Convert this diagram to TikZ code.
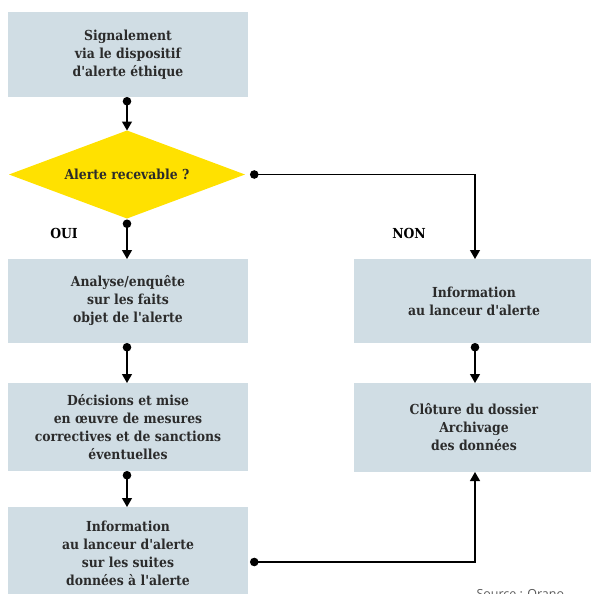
\documentclass[tikz,border=0pt]{standalone}
\usepackage{fontspec}
\setmainfont{DejaVu Serif Condensed}[BoldFont={DejaVu Serif Condensed Bold}]
\newfontfamily\srcfont{Open Sans}
\usetikzlibrary{shapes.geometric,arrows.meta}
\definecolor{boxfill}{HTML}{D0DDE4}
\definecolor{alertyellow}{HTML}{FFE100}
\definecolor{ink}{HTML}{2B2B2B}
\newcommand\ap{\textquotesingle}
\tikzset{
  stepbox/.style={rectangle, fill=boxfill, draw=none, minimum width=240pt,
    inner sep=0pt, outer sep=0pt, align=center, text=ink,
    font=\bfseries\fontsize{13.8}{18}\selectfont},
  decision/.style={diamond, fill=alertyellow, draw=none, minimum width=236pt,
    minimum height=88pt, aspect=2.68, inner sep=0pt, outer sep=0pt, text=ink,
    font=\bfseries\fontsize{13.8}{18}\selectfont},
  branch/.style={text=black, font=\bfseries\fontsize{13.8}{16}\selectfont},
  conn/.style={draw=black, line width=1.2pt,
    {Circle[length=8.5pt]}-{Triangle[width=10pt,length=9pt]}},
}
\begin{document}
\begin{tikzpicture}[x=1pt,y=-1pt]
  \useasboundingbox (0,0) rectangle (591,594);
  \clip (0,0) rectangle (591,594);
  % left column
  \node[stepbox, minimum height=85pt] (signal) at (128,54.5)
    {Signalement\\via le dispositif\\d\ap alerte éthique};
  \node[decision] (recv) at (127,174.5) {Alerte recevable ?};
  \node[stepbox, minimum height=84pt] (analyse) at (128,301)
    {Analyse/enquête\\sur les faits\\objet de l\ap alerte};
  \node[stepbox, minimum height=88pt] (decide) at (128,427)
    {Décisions et mise\\en {\oe}uvre de mesures\\correctives et de sanctions\\éventuelles};
  \node[stepbox, minimum height=92pt] (inform) at (128,553)
    {Information\\au lanceur d\ap alerte\\sur les suites\\données à l\ap alerte};
  % right column
  \node[stepbox, minimum height=84pt] (notify) at (474,301)
    {Information\\au lanceur d\ap alerte};
  \node[stepbox, minimum height=89pt] (close) at (474,427.5)
    {Clôture du dossier\\Archivage\\des données};
  % branch labels
  \node[branch] (oui) at (64,233) {OUI};
  \node[branch] (non) at (409,233) {NON};
  % connectors
  \draw[conn] (signal.south -| 127,0) -- (recv.north);
  \draw[conn, shorten <=1pt] (recv.south) -- (analyse.north -| 127,0);
  \draw[conn] (analyse.south -| 127,0) -- (decide.north -| 127,0);
  \draw[conn] (decide.south -| 127,0) -- (inform.north -| 127,0);
  \draw[conn, shorten <=5pt] (recv.east) -| (notify.north -| 475,0);
  \draw[conn] (notify.south -| 475,0) -- (close.north -| 475,0);
  \draw[conn, shorten <=2pt] (inform.east |- 0,562) -| (close.south -| 475,0);
  % source line
  \node[anchor=base west, text=black!65, font=\srcfont\fontsize{12.5}{14}\selectfont]
    (source) at (473,598) {Source : Orano};
\end{tikzpicture}
\end{document}
